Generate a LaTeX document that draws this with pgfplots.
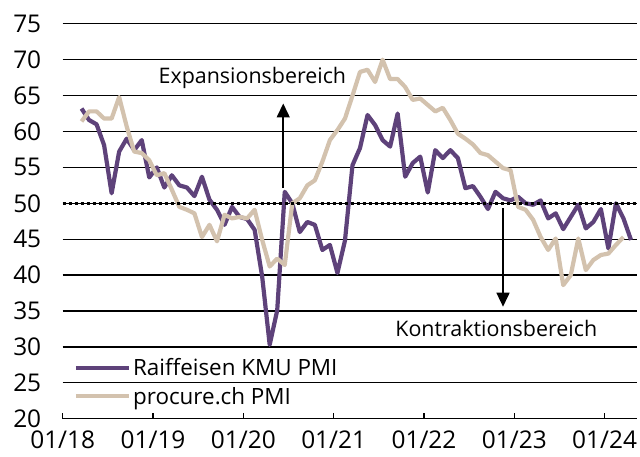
\documentclass[border=0pt]{standalone}
\usepackage{fontspec}
\setmainfont{Open Sans}
\usepackage{pgfplots}
\pgfplotsset{compat=1.18}
\usetikzlibrary{arrows.meta}
\definecolor{raiff}{RGB}{94,66,122}
\definecolor{proc}{RGB}{211,194,174}

\pgfplotstableread{
x y
2.5 63.2
3.5 61.6
4.5 61.0
5.5 58.1
6.5 51.4
7.5 57.2
8.5 59.0
9.5 57.4
10.5 58.8
11.5 53.6
12.5 55.0
13.5 52.2
14.5 53.9
15.5 52.5
16.5 52.2
17.5 51.0
18.5 53.7
19.5 50.5
20.5 49.1
21.5 47.0
22.5 49.5
23.5 48.1
24.5 47.8
25.5 46.3
26.5 39.8
27.5 30.3
28.5 35.1
29.5 51.6
30.5 50.0
31.5 46.0
32.5 47.4
33.5 47.0
34.5 43.5
35.5 44.2
36.5 40.3
37.5 44.8
38.5 55.3
39.5 57.7
40.5 62.3
41.5 60.9
42.5 58.8
43.5 57.9
44.5 62.5
45.5 53.7
46.5 55.6
47.5 56.5
48.5 51.5
49.5 57.4
50.5 56.3
51.5 57.4
52.5 56.3
53.5 52.1
54.5 52.4
55.5 50.9
56.5 49.2
57.5 51.6
58.5 50.7
59.5 50.4
60.5 50.9
61.5 50.0
62.5 49.8
63.5 50.4
64.5 47.9
65.5 48.6
66.5 46.4
67.5 48.1
68.5 49.8
69.5 46.5
70.5 47.4
71.5 49.2
72.5 43.7
73.5 50.0
74.5 47.9
75.5 44.9
}\raiffdata

\pgfplotstableread{
x y
2.5 61.4
3.5 62.8
4.5 62.8
5.5 61.8
6.5 61.8
7.5 64.8
8.5 60.7
9.5 57.2
10.5 57.0
11.5 56.0
12.5 53.9
13.5 54.2
14.5 51.9
15.5 49.5
16.5 49.1
17.5 48.6
18.5 45.3
19.5 47.0
20.5 44.7
21.5 48.4
22.5 47.9
23.5 48.1
24.5 47.9
25.5 49.1
26.5 44.9
27.5 41.2
28.5 42.3
29.5 41.4
30.5 50.0
31.5 50.7
32.5 52.5
33.5 53.2
34.5 55.8
35.5 58.8
36.5 60.2
37.5 61.8
38.5 65.0
39.5 68.3
40.5 68.6
41.5 66.9
42.5 70.0
43.5 67.3
44.5 67.3
45.5 66.2
46.5 64.4
47.5 64.6
48.5 63.7
49.5 62.8
50.5 63.3
51.5 61.6
52.5 59.7
53.5 59.0
54.5 58.2
55.5 57.0
56.5 56.7
57.5 55.8
58.5 54.9
59.5 54.6
60.5 49.5
61.5 49.1
62.5 47.7
63.5 45.3
64.5 43.5
65.5 45.1
66.5 38.6
67.5 40.0
68.5 45.1
69.5 40.7
70.5 42.1
71.5 42.8
72.5 43.0
73.5 44.2
74.5 45.3
}\procdata

\begin{document}
\begin{tikzpicture}[font=\fontsize{21.5}{25}\selectfont]
\useasboundingbox (-62.7bp,-38.3bp) rectangle (577.3bp,418.7bp);
\begin{axis}[
  scale only axis, width=574.3bp, height=394.9bp,
  xmin=0, xmax=76.3, ymin=20, ymax=75,
  axis lines*=left,
  x axis line style={black, line width=1.3bp, -},
  y axis line style={draw=none},
  xtick={0,12,...,72},
  xticklabels={01/18,01/19,01/20,01/21,01/22,01/23,01/24},
  ytick={20,25,...,75},
  ymajorgrids,
  grid style={black, line width=1.3bp},
  tick align=inside,
  major tick length=6bp,
  xtick style={black, line width=1.3bp},
  ytick style={draw=none},
  /pgf/number format/assume math mode=true,
  tick label style={font=\fontsize{24.5}{28}\selectfont},
  yticklabel style={xshift=-18bp},
  xticklabel style={yshift=-9bp},
  legend style={draw=none, fill=none, at={(axis description cs:0,0)}, anchor=south west, xshift=8bp, yshift=9bp, row sep=6bp, legend cell align=left, font=\fontsize{22.5}{26}\selectfont},
  legend image code/.code={\draw[#1] (0bp,0bp) -- (53bp,0bp);},
]
\addplot[raiff, line width=4.2bp, line join=round] table[x=x,y=y] {\raiffdata};
\addlegendentry{Raiffeisen KMU PMI}
\addplot[proc, line width=4.2bp, line join=round] table[x=x,y=y] {\procdata};
\addlegendentry{procure.ch PMI}
\draw[black, line width=3bp, dash pattern=on 3.5bp off 2.5bp] (axis cs:0,50) -- (axis cs:76.3,50);
\node at (axis cs:25.2,67.45) {Expansionsbereich};
\node at (axis cs:57.6,32.6) {Kontraktionsbereich};
\draw[black, line width=1.6bp, -{Triangle[width=13bp,length=14bp]}] (axis cs:29.3,52.1) -- (axis cs:29.3,63.9);
\draw[black, line width=1.6bp, -{Triangle[width=13bp,length=14bp]}] (axis cs:58.5,49.3) -- (axis cs:58.5,35.6);
\end{axis}
\end{tikzpicture}
\end{document}
